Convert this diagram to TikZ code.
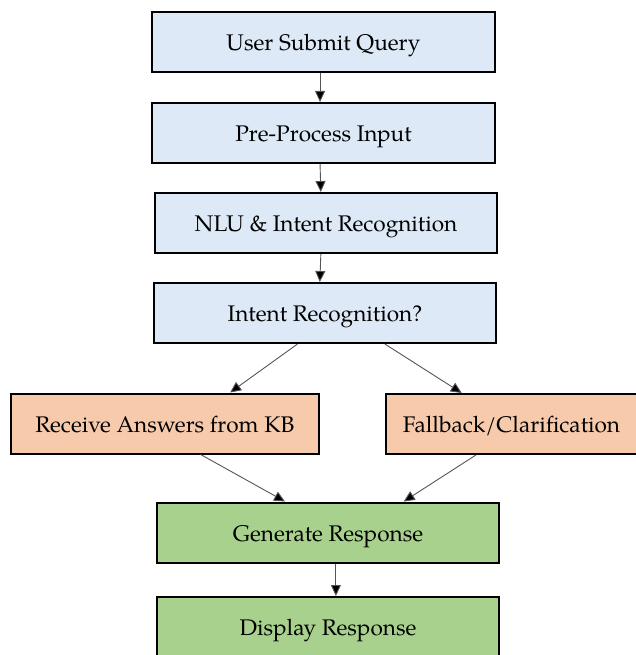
\documentclass[tikz,border=0pt]{standalone}
\usepackage{fontspec}
\setmainfont{TeX Gyre Pagella}
\usetikzlibrary{arrows.meta,calc}
\definecolor{bluefill}{HTML}{DDE9F6}
\definecolor{orangefill}{HTML}{F7CAAC}
\definecolor{greenfill}{HTML}{A9D18E}
\definecolor{arrline}{HTML}{555555}
\tikzset{
  box/.style={draw=black, line width=2pt, minimum height=60pt, inner sep=0pt, text height=17pt, text depth=0pt, font=\fontsize{22.6}{26}\selectfont, text=black},
  bluebox/.style={box, fill=bluefill},
  orangebox/.style={box, fill=orangefill},
  greenbox/.style={box, fill=greenfill},
  arr/.style={draw=arrline, line width=0.9pt, -{Triangle[width=10pt,length=11pt,fill=black]}},
}
\begin{document}
\begin{tikzpicture}[x=1pt,y=-1pt]
\useasboundingbox (0,0) rectangle (635,655);
\node[bluebox, minimum width=343pt] (q) at (323.5,42) {User Submit Query};
\node[bluebox, minimum width=343pt] (pre) at (323.5,133) {Pre-Process Input};
\node[bluebox, minimum width=342pt] (nlu) at (326,223) {NLU \& Intent Recognition};
\node[bluebox, minimum width=342pt] (int) at (325,313) {Intent Recognition?};
\node[orangebox, minimum width=308pt] (kb) at (165,423.5) {Receive Answers from KB};
\node[orangebox, minimum width=252pt] (fb) at (511.5,424) {Fallback/Clarification};
\node[greenbox, minimum width=342pt] (gen) at (328,532.5) {Generate Response};
\node[greenbox, minimum width=342pt] (disp) at (328,627) {Display Response};

\draw[arr] ($(q.south west)!0.49!(q.south east)$) -- ($(pre.north west)!0.49!(pre.north east)$);
\draw[arr] ($(pre.south west)!0.49!(pre.south east)$) -- ($(nlu.north west)!0.485!(nlu.north east)$);
\draw[arr] ($(nlu.south west)!0.485!(nlu.south east)$) -- ($(int.north west)!0.485!(int.north east)$);
\draw[arr] ($(int.south west)!0.42!(int.south east)$) -- ($(kb.north west)!0.71!(kb.north east)$);
\draw[arr] ($(int.south west)!0.674!(int.south east)$) -- ($(fb.north west)!0.304!(fb.north east)$);
\draw[arr] ($(kb.south west)!0.615!(kb.south east)$) -- ($(gen.north west)!0.375!(gen.north east)$);
\draw[arr] ($(fb.south west)!0.36!(fb.south east)$) -- ($(gen.north west)!0.72!(gen.north east)$);
\draw[arr] ($(gen.south west)!0.523!(gen.south east)$) -- ($(disp.north west)!0.523!(disp.north east)$);
\end{tikzpicture}
\end{document}
